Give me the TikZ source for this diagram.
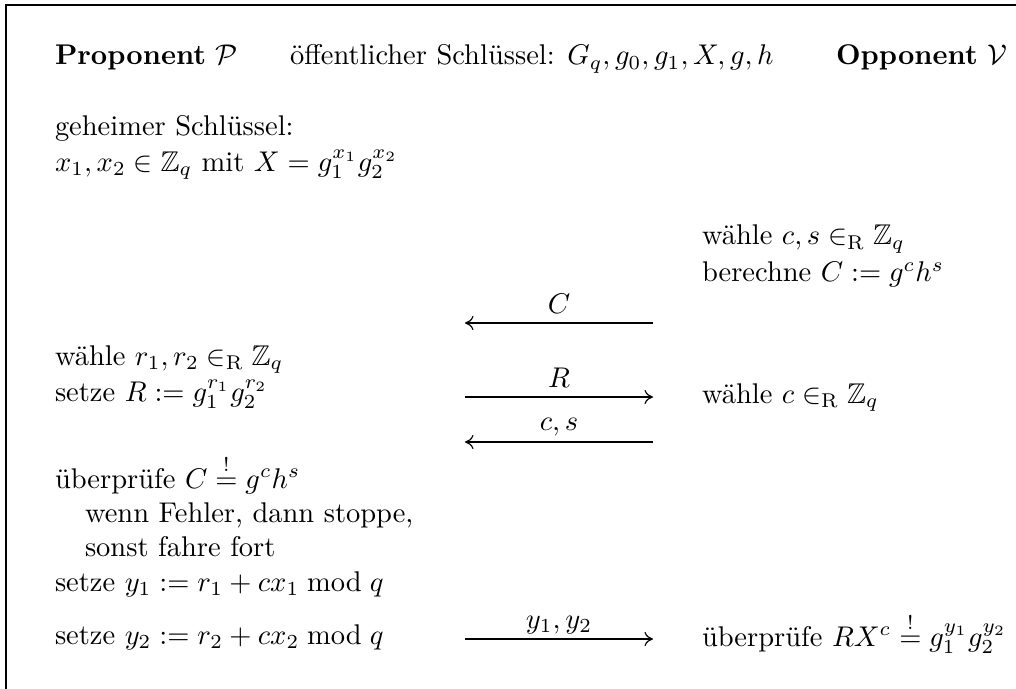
\documentclass[tikz,border=0pt]{standalone}
\usepackage{amssymb}
\usetikzlibrary{arrows.meta}
\begin{document}
\begin{tikzpicture}[x=0.3509pt,y=-0.3509pt,
  txt/.style={anchor=base west,inner sep=0pt,outer sep=0pt},
  txtr/.style={anchor=base east,inner sep=0pt,outer sep=0pt},
  lbl/.style={anchor=base,inner sep=0pt,outer sep=0pt},
  msg/.style={-{To[length=3pt,width=5pt]},line width=0.4pt},
  frame/.style={line width=0.8pt}]
\useasboundingbox (0,0) rectangle (1016,689);
\draw[frame] (6,689) -- (6,5) -- (1016,5);
% header
\node[txt] (hp) at (55,65) {\textbf{Proponent} $\mathcal{P}$};
\node[txt] (hk) at (290,65) {öffentlicher Schlüssel: $G_q, g_0, g_1, X, g, h$};
\node[txtr] (hv) at (1007,65) {\textbf{Opponent} $\mathcal{V}$};
% left column
\node[txt] (p1) at (55,136) {geheimer Schlüssel:};
\node[txt] (p2) at (55,171) {$x_1, x_2 \in \mathbb{Z}_q$ mit $X = g_1^{x_1} g_2^{x_2}$};
\node[txt] (p3) at (55,365) {wähle $r_1, r_2 \in_{\mathrm{R}} \mathbb{Z}_q$};
\node[txt] (p4) at (55,401) {setze $R := g_1^{r_1} g_2^{r_2}$};
\node[txt] (p5) at (55,488) {überprüfe $C \stackrel{!}{=} g^c h^s$};
\node[txt] (p6) at (85,522) {wenn Fehler, dann stoppe,};
\node[txt] (p7) at (85,556) {sonst fahre fort};
\node[txt] (p8) at (55,591) {setze $y_1 := r_1 + c x_1 \bmod q$};
\node[txt] (p9) at (55,644) {setze $y_2 := r_2 + c x_2 \bmod q$};
% right column
\node[txt] (v1) at (702,245) {wähle $c, s \in_{\mathrm{R}} \mathbb{Z}_q$};
\node[txt] (v2) at (702,282) {berechne $C := g^c h^s$};
\node[txt] (v3) at (702,403) {wähle $c \in_{\mathrm{R}} \mathbb{Z}_q$};
\node[txt] (v4) at (702,646) {überprüfe $R X^c \stackrel{!}{=} g_1^{y_1} g_2^{y_2}$};
% messages
\coordinate (m1l) at (465,323); \coordinate (m1r) at (653,323);
\coordinate (m2l) at (465,397); \coordinate (m2r) at (653,397);
\coordinate (m3l) at (465,442); \coordinate (m3r) at (653,442);
\coordinate (m4l) at (465,639); \coordinate (m4r) at (653,639);
\draw[msg] (m1r) -- (m1l);
\draw[msg] (m2l) -- (m2r);
\draw[msg] (m3r) -- (m3l);
\draw[msg] (m4l) -- (m4r);
\node[lbl] (l1) at (559,313) {$C$};
\node[lbl] (l2) at (559,387) {$R$};
\node[lbl] (l3) at (559,430) {$c, s$};
\node[lbl] (l4) at (559,628) {$y_1, y_2$};
\end{tikzpicture}
\end{document}
